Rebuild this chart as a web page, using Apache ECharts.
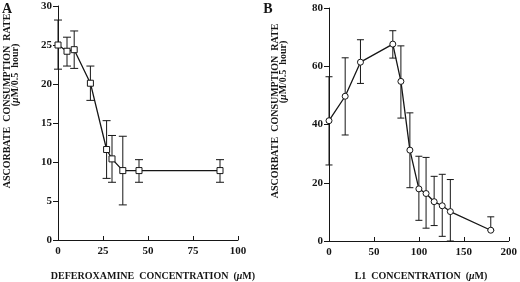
<!DOCTYPE html>
<html>
<head>
<meta charset="utf-8">
<script src="https://cdn.jsdelivr.net/npm/echarts@6/dist/echarts.min.js"></script>
<style>
  html, body { margin: 0; padding: 0; background: #fff; }
  #chart { width: 520px; height: 282px; }
</style>
</head>
<body>
<div id="chart"></div>
<script>
  // panel A: deferoxamine
  var defConc = [0, 5, 9, 18, 27, 30, 36, 45, 90]
  var defRate = [25, 24.2, 24.4, 20.1, 11.6, 10.4, 8.9, 8.9, 8.9]
  var defLow = [21.9, 22.3, 22, 17.9, 7.9, 7.4, 4.5, 7.4, 7.4]
  var defHigh = [28.2, 26, 26.8, 22.3, 15.3, 13.4, 13.3, 10.3, 10.3]

  // panel B: L1
  var l1Conc = [0, 18, 35, 71, 80, 90, 100, 108, 117, 126, 135, 180]
  var l1Rate = [41.3, 49.7, 61.4, 67.6, 54.8, 31.2, 17.9, 16.3, 13.5, 12.1, 10.1, 3.7]
  var l1Low = [26.1, 36.4, 54.1, 62.8, 42.2, 18.3, 7.1, 4.4, 5.3, 1.6, 0, 3.7]
  var l1High = [56.4, 62.9, 69.1, 72.2, 67.0, 44.0, 29.1, 28.7, 22.2, 22.9, 21.1, 8.3]

  var ink = '#161616'
  var serif = '"Liberation Serif", "Times New Roman", serif'

  function pairs (xs, ys) {
    return xs.map(function (x, i) { return [x, ys[i]] })
  }
  function triples (xs, lo, hi) {
    return xs.map(function (x, i) { return [x, lo[i], hi[i]] })
  }

  function errorBars (capHalf) {
    return function (params, api) {
      var top = api.coord([api.value(0), api.value(2)])
      var bot = api.coord([api.value(0), api.value(1)])
      var st = { stroke: ink, lineWidth: 1 }
      return {
        type: 'group',
        children: [
          { type: 'line', shape: { x1: top[0], y1: top[1], x2: bot[0], y2: bot[1] }, style: st },
          { type: 'line', shape: { x1: top[0] - capHalf, y1: top[1], x2: top[0] + capHalf, y2: top[1] }, style: st },
          { type: 'line', shape: { x1: bot[0] - capHalf, y1: bot[1], x2: bot[0] + capHalf, y2: bot[1] }, style: st }
        ]
      }
    }
  }

  function xAxis (idx, max, step) {
    return {
      type: 'value', gridIndex: idx, min: 0, max: max, interval: step,
      axisLine: { lineStyle: { color: ink, width: 1 } },
      axisTick: { inside: true, length: 4, lineStyle: { color: ink } },
      axisLabel: { color: ink, fontFamily: serif, fontWeight: 'bold', fontSize: 11, margin: 6 },
      splitLine: { show: false }
    }
  }
  function yAxis (idx, max, step) {
    return {
      type: 'value', gridIndex: idx, min: 0, max: max, interval: step,
      axisLine: { show: true, lineStyle: { color: ink, width: 1 } },
      axisTick: { show: true, length: 5, lineStyle: { color: ink } },
      axisLabel: { color: ink, fontFamily: serif, fontWeight: 'bold', fontSize: 11, margin: 6 },
      splitLine: { show: false }
    }
  }

  var txt = { fill: ink, font: 'bold 10px ' + serif, align: 'center', verticalAlign: 'middle',
    rich: { i: { fontStyle: 'italic', fontWeight: 'bold', fontSize: 10, fontFamily: serif, fill: ink } } }
  function label (text, x, y, rot, size) {
    var s = Object.assign({}, txt, { text: text })
    if (size) s.font = 'bold ' + size + 'px ' + serif
    return { type: 'text', x: x, y: y, rotation: rot || 0, style: s, silent: true }
  }

  var chart = echarts.init(document.getElementById('chart'), null, { renderer: 'canvas' })
  chart.setOption({
    backgroundColor: '#fff',
    animation: false,
    grid: [
      { left: 58, top: 6, width: 180, height: 234 },
      { left: 329, top: 8, width: 182, height: 233 }
    ],
    xAxis: [xAxis(0, 100, 25), xAxis(1, 200, 50)],
    yAxis: [yAxis(0, 30, 5), yAxis(1, 80, 20)],
    series: [
      {
        type: 'custom', xAxisIndex: 0, yAxisIndex: 0, z: 2,
        renderItem: errorBars(4), data: triples(defConc, defLow, defHigh)
      },
      {
        type: 'line', xAxisIndex: 0, yAxisIndex: 0, z: 3,
        data: pairs(defConc, defRate),
        symbol: 'rect', symbolSize: 6,
        lineStyle: { color: ink, width: 1.3 },
        itemStyle: { color: '#fff', borderColor: ink, borderWidth: 1 }
      },
      {
        type: 'custom', xAxisIndex: 1, yAxisIndex: 1, z: 2,
        renderItem: errorBars(3.5), data: triples(l1Conc, l1Low, l1High)
      },
      {
        type: 'line', xAxisIndex: 1, yAxisIndex: 1, z: 3,
        data: pairs(l1Conc, l1Rate),
        symbol: 'circle', symbolSize: 6,
        lineStyle: { color: ink, width: 1.3 },
        itemStyle: { color: '#fff', borderColor: ink, borderWidth: 1 }
      }
    ],
    graphic: [
      label('A', 7, 9, 0, 14),
      label('B', 268, 9, 0, 14),
      label('ASCORBATE  CONSUMPTION  RATE', 7, 101, Math.PI / 2),
      label('({i|μ}M/0.5  hour)', 15, 75, Math.PI / 2),
      label('ASCORBATE  CONSUMPTION  RATE', 275, 111, Math.PI / 2),
      label('({i|μ}M/0.5  hour)', 283, 72, Math.PI / 2),
      label('DEFEROXAMINE  CONCENTRATION  ({i|μ}M)', 153, 276),
      label('L1  CONCENTRATION  ({i|μ}M)', 421, 276)
    ]
  })
</script>
</body>
</html>
